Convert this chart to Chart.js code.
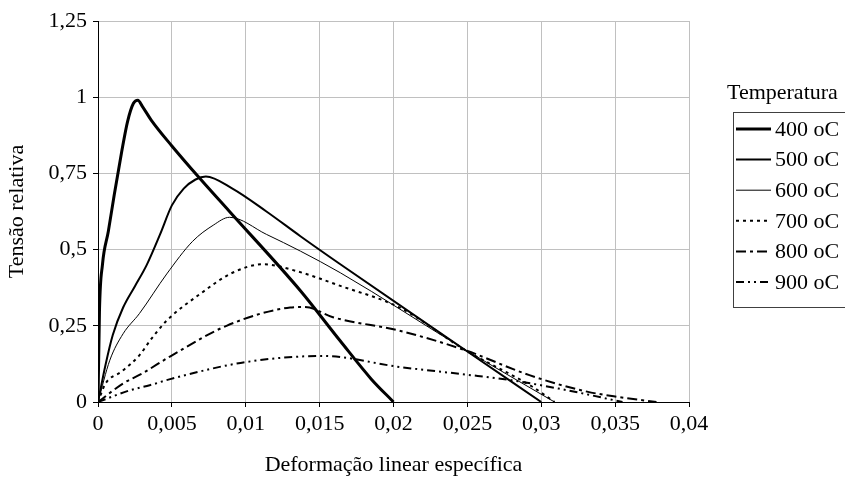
<!DOCTYPE html>
<html lang="pt">
<head>
<meta charset="utf-8">
<title>Tensão relativa x Deformação</title>
<script src="https://cdn.jsdelivr.net/npm/chart.js@4"></script>
<style>
    html, body { margin: 0; padding: 0; background: #fff; }
    #grafico-container { width: 845px; height: 484px; position: relative; }
</style>
</head>
<body>
<div id="grafico-container">
    <canvas id="grafico-tensao"></canvas>
</div>
<script>
// Dados (deformação x tensão relativa)
const temperaturas = ['400 oC', '500 oC', '600 oC', '700 oC', '800 oC', '900 oC'];

const deformacao400 = [0, 0.0001, 0.0003, 0.0007, 0.0011, 0.0016, 0.002, 0.0024, 0.0027, 0.003, 0.0036, 0.005, 0.0069, 0.0089, 0.0137, 0.0164, 0.0185, 0.02];
const tensao400 = [0, 0.3, 0.45, 0.56, 0.68, 0.82, 0.92, 0.98, 0.99, 0.97, 0.925, 0.84, 0.733, 0.625, 0.365, 0.2, 0.075, 0];

const deformacao500 = [0, 0.0005, 0.001, 0.0017, 0.0025, 0.0033, 0.0042, 0.005, 0.0058, 0.0066, 0.0073, 0.0091, 0.0114, 0.0137, 0.0164, 0.0249, 0.030];
const tensao500 = [0, 0.12, 0.22, 0.31, 0.38, 0.45, 0.55, 0.645, 0.70, 0.73, 0.74, 0.70, 0.625, 0.544, 0.452, 0.169, 0];

const deformacao600 = [0, 0.0008, 0.0017, 0.0028, 0.00465, 0.0064, 0.0078, 0.0089, 0.0114, 0.0137, 0.0164, 0.0249, 0.0309];
const tensao600 = [0, 0.137, 0.224, 0.29, 0.42, 0.527, 0.58, 0.606, 0.55, 0.495, 0.424, 0.17, 0];

const deformacao700 = [0, 0.0005, 0.0016, 0.0028, 0.0035, 0.00465, 0.0069, 0.0091, 0.0112, 0.0134, 0.0164, 0.0204, 0.0249, 0.0294, 0.0309];
const tensao700 = [0, 0.06, 0.1, 0.153, 0.2, 0.267, 0.354, 0.424, 0.452, 0.43, 0.381, 0.31, 0.169, 0.05, 0];

const deformacao800 = [0, 0.0017, 0.003, 0.0049, 0.0087, 0.013, 0.014, 0.0159, 0.0204, 0.0249, 0.0292, 0.0331, 0.0353, 0.0378];
const tensao800 = [0, 0.061, 0.094, 0.15, 0.25, 0.31, 0.312, 0.278, 0.234, 0.169, 0.088, 0.034, 0.016, 0];

const deformacao900 = [0, 0.0022, 0.0035, 0.0051, 0.01, 0.0152, 0.0204, 0.0249, 0.0279, 0.0317, 0.0355];
const tensao900 = [0, 0.039, 0.055, 0.078, 0.131, 0.151, 0.115, 0.09, 0.072, 0.039, 0];

// Rótulos dos eixos
const rotulosX = ['0', '0,005', '0,01', '0,015', '0,02', '0,025', '0,03', '0,035', '0,04'];
const rotulosY = ['0', '0,25', '0,5', '0,75', '1', '1,25'];

const fonte = '"Liberation Serif", "Times New Roman", serif';
const tamanhoFonte = 22;

// Juntar x e y em pontos
const montarPontos = (xs, ys) => xs.map((x, i) => ({ x: x, y: ys[i] }));

// Estilo de cada curva
const estilos = [
    { largura: 3, tracejado: [] },
    { largura: 2, tracejado: [] },
    { largura: 1, tracejado: [] },
    { largura: 2, tracejado: [3, 4] },
    { largura: 2, tracejado: [10, 4, 3, 4] },
    { largura: 2, tracejado: [8, 4, 2, 4, 2, 4] }
];

const series = [
    montarPontos(deformacao400, tensao400),
    montarPontos(deformacao500, tensao500),
    montarPontos(deformacao600, tensao600),
    montarPontos(deformacao700, tensao700),
    montarPontos(deformacao800, tensao800),
    montarPontos(deformacao900, tensao900)
];

// Legenda desenhada à mão (caixa com título por fora)
const legendaTemperatura = {
    id: 'legendaTemperatura',
    afterDraw(chart) {
        const ctx = chart.ctx;
        const x0 = 733, topo = 112, base = 307;
        ctx.save();
        ctx.font = tamanhoFonte + 'px ' + fonte;
        ctx.fillStyle = '#000';
        ctx.textBaseline = 'middle';
        ctx.textAlign = 'left';
        ctx.fillText('Temperatura', 727, 93);

        ctx.strokeStyle = '#404040';
        ctx.lineWidth = 1;
        ctx.strokeRect(x0 + 0.5, topo + 0.5, 130, base - topo);

        chart.data.datasets.forEach((ds, i) => {
            const y = 129 + i * 30.6;
            ctx.beginPath();
            ctx.setLineDash(ds.borderDash || []);
            ctx.lineWidth = ds.borderWidth;
            ctx.strokeStyle = '#000';
            ctx.moveTo(736, y);
            ctx.lineTo(771, y);
            ctx.stroke();
            ctx.setLineDash([]);
            ctx.fillText(ds.label, 775, y + 1);
        });
        ctx.restore();
    }
};

const ctx = document.getElementById('grafico-tensao').getContext('2d');

window.graficoTensao = new Chart(ctx, {
    type: 'line',
    data: {
        datasets: series.map((pontos, i) => ({
            label: temperaturas[i],
            data: pontos,
            borderColor: '#000',
            backgroundColor: '#000',
            borderWidth: estilos[i].largura,
            borderDash: estilos[i].tracejado,
            pointRadius: 0,
            cubicInterpolationMode: 'monotone',
            fill: false
        }))
    },
    options: {
        responsive: true,
        maintainAspectRatio: false,
        animation: false,
        layout: {
            padding: { left: 0, top: 21, right: 156, bottom: 0 }
        },
        scales: {
            x: {
                type: 'linear',
                min: 0,
                max: 0.04,
                afterFit: (scale) => { scale.height = 82; },
                afterBuildTicks: (scale) => {
                    scale.ticks = rotulosX.map((r, i) => ({ value: i * 0.005 }));
                },
                ticks: {
                    color: '#000',
                    font: { family: fonte, size: tamanhoFonte },
                    padding: 4,
                    maxRotation: 0,
                    autoSkip: false,
                    callback: (valor, indice) => rotulosX[indice]
                },
                grid: {
                    color: '#c0c0c0',
                    tickColor: '#000',
                    tickLength: 5
                },
                border: { color: '#000', width: 1 },
                title: {
                    display: true,
                    text: 'Deformação linear específica',
                    color: '#000',
                    font: { family: fonte, size: tamanhoFonte },
                    padding: { top: 0, bottom: 6 }
                }
            },
            y: {
                type: 'linear',
                min: 0,
                max: 1.25,
                afterFit: (scale) => { scale.width = 98; },
                afterBuildTicks: (scale) => {
                    scale.ticks = rotulosY.map((r, i) => ({ value: i * 0.25 }));
                },
                ticks: {
                    color: '#000',
                    font: { family: fonte, size: tamanhoFonte },
                    padding: 6,
                    autoSkip: false,
                    callback: (valor, indice) => rotulosY[indice]
                },
                grid: {
                    color: '#c0c0c0',
                    tickColor: '#000',
                    tickLength: 5
                },
                border: { color: '#000', width: 1 },
                title: {
                    display: true,
                    text: 'Tensão relativa',
                    color: '#000',
                    font: { family: fonte, size: tamanhoFonte },
                    padding: { top: 4, bottom: 0 }
                }
            }
        },
        plugins: {
            legend: { display: false },
            tooltip: { enabled: false }
        }
    },
    plugins: [legendaTemperatura]
});
</script>
</body>
</html>
